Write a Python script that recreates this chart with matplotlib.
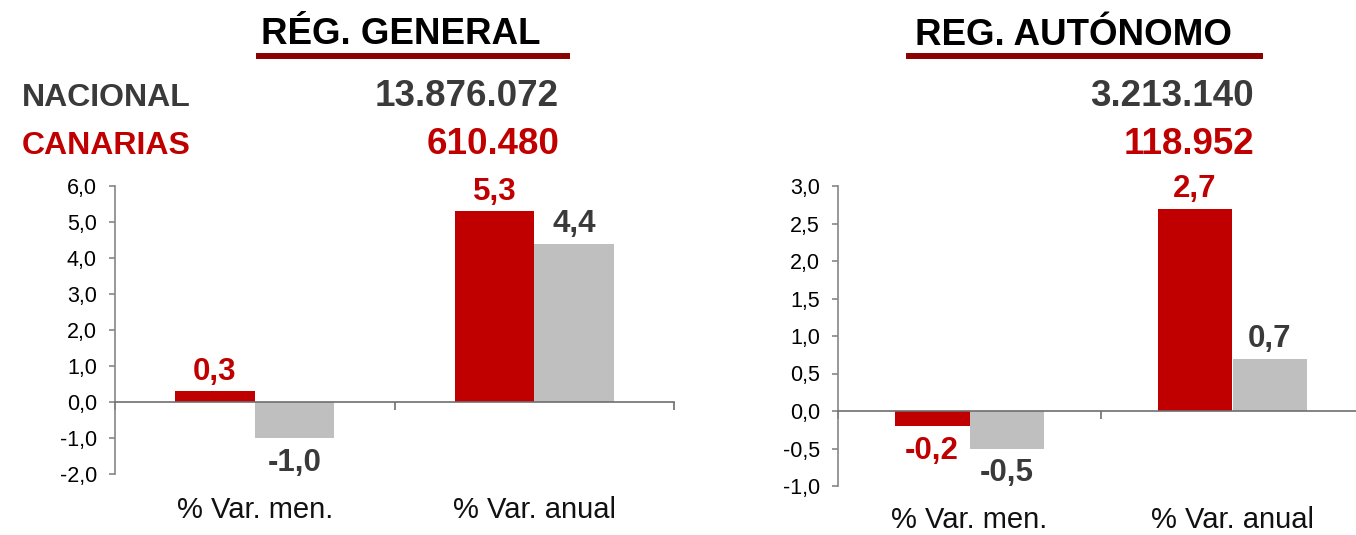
import matplotlib
matplotlib.use("Agg")
import matplotlib.pyplot as plt
from matplotlib.lines import Line2D
from matplotlib.ticker import FuncFormatter, FixedLocator

plt.rcParams['font.family'] = ['Liberation Sans', 'DejaVu Sans']

# ---- data ----
categories = ["% Var. men.", "% Var. anual"]
general_canarias = [0.3, 5.3]
general_nacional = [-1.0, 4.4]
autonomo_canarias = [-0.2, 2.7]
autonomo_nacional = [-0.5, 0.7]

title_general = "RÉG. GENERAL"
title_autonomo = "REG. AUTÓNOMO"
row_labels = ["NACIONAL", "CANARIAS"]
general_totals = ["13.876.072", "610.480"]
autonomo_totals = ["3.213.140", "118.952"]

general_yticks = [-2, -1, 0, 1, 2, 3, 4, 5, 6]
autonomo_yticks = [-1.0, -0.5, 0.0, 0.5, 1.0, 1.5, 2.0, 2.5, 3.0]

# ---- style ----
RED = "#C00000"
GRAY = "#BFBFBF"
DARK = "#3A3A3A"
LINE_RED = "#8B0000"
AXIS = "#868686"

W, H = 1356, 535
fig = plt.figure(figsize=(W / 100, H / 100), dpi=100)


def fx(px):
    return px / W


def fy(py):
    return 1 - py / H


def comma(v, pos=None):
    return f"{v:.1f}".replace(".", ",")


def draw_panel(rect, canarias, nacional, yticks, label_y):
    ax = fig.add_axes(rect)
    x = list(range(len(categories)))
    bw = 0.285
    xr = [i - bw / 2 for i in x]
    xg = [i + bw / 2 for i in x]
    b1 = ax.bar(xr, canarias, width=bw, color=RED, zorder=2)
    b2 = ax.bar(xg, nacional, width=bw, color=GRAY, zorder=2)
    ax.set_xlim(-0.5, len(categories) - 0.5)
    ax.set_ylim(yticks[0], yticks[-1])
    ax.yaxis.set_major_locator(FixedLocator(yticks))
    ax.yaxis.set_major_formatter(FuncFormatter(comma))
    for s in ["top", "right"]:
        ax.spines[s].set_visible(False)
    ax.spines["left"].set_color(AXIS)
    ax.spines["left"].set_linewidth(1.2)
    ax.spines["bottom"].set_position(("data", 0))
    ax.spines["bottom"].set_color("#6E6E6E")
    ax.spines["bottom"].set_linewidth(1.2)
    ax.spines["bottom"].set_zorder(3)
    ax.set_xticks([i - 0.5 for i in range(len(categories) + 1)])
    ax.set_xticklabels([])
    ax.tick_params(axis="x", direction="out", length=6, color="#6E6E6E", width=1.2)
    ax.tick_params(axis="y", direction="out", length=4, color=AXIS, width=1.2,
                   labelsize=15.5, labelcolor="black", pad=9)
    for i, c in enumerate(categories):
        ax.text(i, label_y, c, transform=ax.get_xaxis_transform(), ha="center",
                va="center", fontsize=21, color="#111111")
    for bars, vals, col in [(b1, canarias, RED), (b2, nacional, DARK)]:
        for rect_, v in zip(bars, vals):
            cx = rect_.get_x() + rect_.get_width() / 2
            off = 3 if v >= 0 else -7
            ax.annotate(comma(v), (cx, v), xytext=(0, off), textcoords="offset points",
                        ha="center", va="bottom" if v >= 0 else "top",
                        fontsize=22.5, fontweight="bold", color=col)
    return ax


draw_panel([fx(115), fy(474), fx(674 - 115), (474 - 186) / H],
           general_canarias, general_nacional, general_yticks, -0.125)
draw_panel([fx(838), fy(486), fx(1364 - 838), (486 - 186) / H],
           autonomo_canarias, autonomo_nacional, autonomo_yticks, -0.113)

# ---- headers ----
fig.text(fx(401), fy(44.5), title_general, ha="center", va="baseline",
         fontsize=26.5, fontweight="bold", color="black")
fig.text(fx(1073), fy(45), title_autonomo, ha="center", va="baseline",
         fontsize=26.5, fontweight="bold", color="black")
fig.add_artist(Line2D([fx(256), fx(570)], [fy(55.7)] * 2, color=LINE_RED, lw=4.3,
                      solid_capstyle="butt"))
fig.add_artist(Line2D([fx(906), fx(1263)], [fy(55.7)] * 2, color=LINE_RED, lw=4.3,
                      solid_capstyle="butt"))

row_colors = [DARK, RED]
row_base = [106, 154]
for lab, col, yb in zip(row_labels, row_colors, row_base):
    fig.text(fx(22), fy(yb), lab, ha="left", va="baseline", fontsize=23,
             fontweight="bold", color=col)
for val, col, yb in zip(general_totals, row_colors, row_base):
    fig.text(fx(559), fy(yb), val, ha="right", va="baseline", fontsize=26.5,
             fontweight="bold", color=col)
for val, col, yb in zip(autonomo_totals, row_colors, row_base):
    fig.text(fx(1254), fy(yb), val, ha="right", va="baseline", fontsize=26.5,
             fontweight="bold", color=col)

fig.savefig("out.png", dpi=100)
